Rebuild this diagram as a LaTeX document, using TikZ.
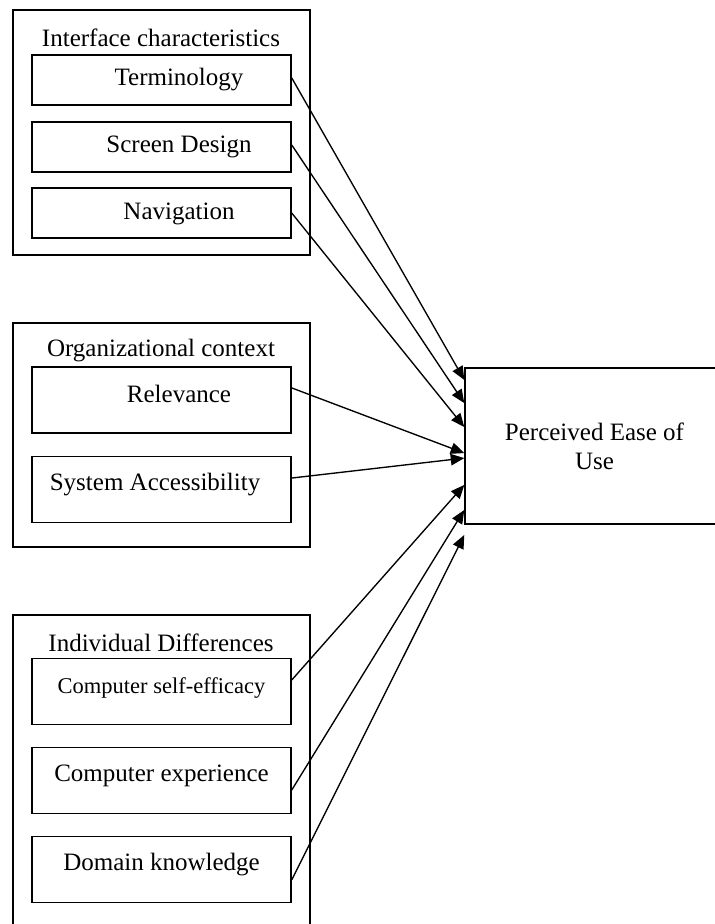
\documentclass[tikz,border=0pt]{standalone}
\usepackage{fontspec}
\setmainfont{Liberation Serif}
\usetikzlibrary{arrows.meta}

\begin{document}
\begin{tikzpicture}[x=0.48pt, y=-0.48pt,
every node/.style={font=\fontsize{12}{14}\selectfont, inner sep=1pt},
group/.style={draw, line width=0.7pt, minimum width=142.6pt},
item/.style={draw, line width=0.7pt, minimum width=124.3pt},
link/.style={-{Triangle[length=6.5pt,width=5.5pt]}, line width=0.65pt}
]
\useasboundingbox (0,0) rectangle (714,924);

% the three groups of factors
\node[group, minimum height=117.6pt] (ic) at (161.5,132.5) {};
\node[group, minimum height=107.5pt] (oc) at (161.5,435) {};
\node[group, minimum height=153.6pt] (id) at (161.5,775) {};
\node (ic-t) at (161,38) {Interface characteristics};
\node (oc-t) at (161,351) {Organizational context};
\node (id-t) at (161,643) {Individual Differences};

\node[item, minimum height=24pt, label={[xshift=8.4pt]center:Terminology}] (term) at (161.5,80) {};
\node[item, minimum height=24pt, label={[xshift=8.4pt]center:Screen Design}] (scr) at (161.5,147) {};
\node[item, minimum height=24pt, label={[xshift=8.4pt,yshift=-0.5pt]center:Navigation}] (nav) at (161.5,213) {};

\node[item, minimum height=31.7pt, label={[xshift=8.4pt,yshift=2.8pt]center:Relevance}] (rel) at (161.5,400) {};
\node[item, minimum height=31.7pt, label={[xshift=-3.1pt,yshift=2.6pt]center:System Accessibility}] (acc) at (161.5,489.5) {};

\node[item, minimum height=31.7pt, label={[yshift=1.8pt, font=\fontsize{10.8}{13}\selectfont]center:Computer self-efficacy}] (cse) at (161.5,691.5) {};
\node[item, minimum height=31.7pt, label={[yshift=2.2pt]center:Computer experience}] (cex) at (161.5,780.5) {};
\node[item, minimum height=31.7pt, label={[yshift=2.6pt]center:Domain knowledge}] (dom) at (161.5,869.5) {};

% outcome
\node[draw, line width=0.7pt, minimum width=124.3pt, minimum height=74.9pt,
    align=center] (peou) at (594.5,446) {Perceived Ease of\\Use};

\foreach \a/\sa/\b in {term/1/31.7, scr/1/20.6, nav/0/9.1,%
                       rel/5.8/-3.4, acc/5.5/-5.8,%
                       cse/5.5/-18.7, cex/-4.6/-30.7, dom/-5/-42.7%
            }
    \draw[link] ([yshift=\sa pt]\a.east) -- ([yshift=\b pt]peou.west);

\end{tikzpicture}
\end{document}
